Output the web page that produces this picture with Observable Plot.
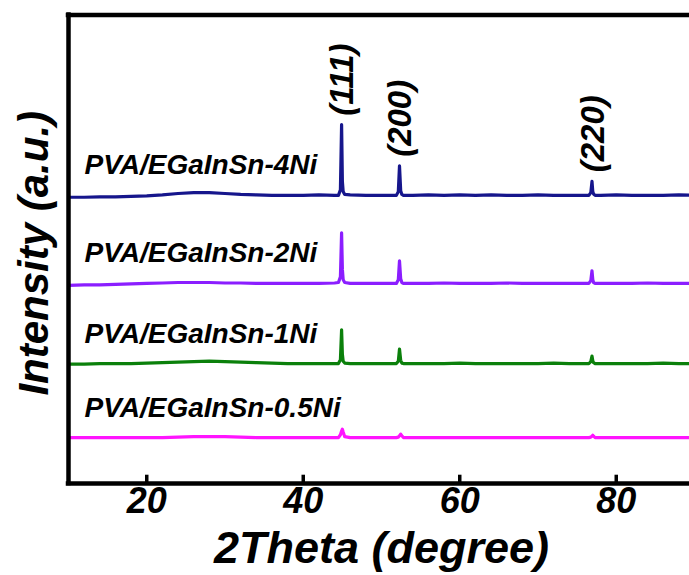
<!DOCTYPE html>
<html>
<head>
<meta charset="utf-8">
<script src="https://cdn.jsdelivr.net/npm/d3@7"></script>
<script src="https://cdn.jsdelivr.net/npm/@observablehq/plot@0.6"></script>
<style>
  html, body { margin: 0; padding: 0; background: #fff; overflow: hidden; }
</style>
</head>
<body>
<div id="chart"></div>
<script>
// XRD patterns of PVA/EGaInSn-xNi films (stacked, arbitrary units)
const twoTheta = [
  10, 12, 14, 16, 18, 20, 22, 24, 26, 28, 30, 32, 34, 36, 38, 40, 42, 44,
  44.5, 44.75, 44.9, 45.0, 45.1, 45.3, 46, 48, 50,
  51.9, 52.15, 52.3, 52.45, 52.6, 52.8, 54, 56, 58, 60, 62, 64, 66, 68, 70, 72, 74, 76,
  76.5, 76.75, 76.9, 77.0, 77.1, 77.3, 78, 80, 82, 84, 86, 88, 90
];

// intensities relative to each pattern's own baseline
const int4Ni = [
  -4, -4, -3, -3, -2, -1, 1, 4, 6, 6, 4, 2, 1, 0, 0, 0, 1, 0,
  0, 12, 151, 30, 8, 2, 1, 0, 0,
  0, 8, 63, 10, 2, 0, 0, 1, 0, 1, 0, 1, 0, 0, 1, 0, 0, 0,
  0, 6, 30, 8, 3, 0, 0, 1, 0, 0, 0, 1, 0
];
const int2Ni = [
  -4, -3, -3, -2, -1, 0, 1, 2, 2, 2, 1, 1, 0, 0, 0, 0, 0, 1,
  2, 14, 108, 30, 8, 2, 0, 0, 0,
  0, 8, 48, 10, 2, 0, 0, 0, 1, 0, 0, 0, 1, 0, 0, 0, 0, 0,
  0, 6, 27, 8, 2, 0, 0, 0, 0, 1, 0, 0, 0
];
const int1Ni = [
  -1, -1, 0, 0, 0, 1, 2, 3, 4, 5, 4, 3, 2, 1, 0, 0, 0, 0,
  0, 8, 72, 20, 5, 1, 0, 0, 0,
  0, 5, 31, 7, 1, 0, 0, 0, 0, 1, 0, 0, 0, 0, 0, 1, 0, 0,
  0, 4, 16, 6, 2, 0, 0, 0, 0, 0, 1, 0, 0
];
const int05Ni = [
  0, 0, 0, 0, 0, 0, 0, 1, 2, 2, 2, 1, 0, 0, 0, 0, 0, 0,
  0, 6, 14, 18, 12, 2, 0, 0, 0,
  0, 1, 4, 7.5, 4, 0, 0, 0, 0, 0, 0, 0, 0, 0, 0, 0, 0, 0,
  0, 1, 3, 5, 3, 0, 0, 0, 0, 0, 0, 0, 0
];

const seriesNames = ["PVA/EGaInSn-4Ni", "PVA/EGaInSn-2Ni", "PVA/EGaInSn-1Ni", "PVA/EGaInSn-0.5Ni"];
const seriesIntensities = [int4Ni, int2Ni, int1Ni, int05Ni];
const seriesOffsets = [615, 427, 256, 98];
const seriesColors = ["#16168c", "#8b1eff", "#0b800b", "#ff14ff"];

const peakPositions = [44.9, 52.3, 76.9];
const peakLabels = ["(111)", "(200)", "(220)"];

const xTicks = [20, 40, 60, 80];
const xLabel = "2Theta (degree)";
const yLabel = "Intensity (a.u.)";

// long-format table: one row per point, shifted by the stacking offset
const rows = [];
seriesIntensities.forEach((vals, s) => {
  vals.forEach((v, k) => rows.push({series: seriesNames[s], theta: twoTheta[k], value: v + seriesOffsets[s]}));
});

// the hkl labels sit just above the top pattern's peaks
const peakTops = peakPositions.map(p => int4Ni[twoTheta.indexOf(p)] + seriesOffsets[0]);

const font = '"Liberation Sans", Arial, Helvetica, sans-serif';
const bold = {fontWeight: "bold", fontStyle: "italic", fill: "black"};

const chart = Plot.plot({
  width: 689,
  height: 575,
  marginLeft: 68,
  marginRight: 0,
  marginTop: 14.5,
  marginBottom: 92,
  style: {fontFamily: font, background: "white", color: "black"},
  x: {domain: [10, 90], range: [68, 694], axis: null},
  y: {domain: [0, 1000], axis: null},
  color: {domain: seriesNames, range: seriesColors},
  marks: [
    Plot.lineY(rows, {x: "theta", y: "value", z: "series", stroke: "series", strokeWidth: 3.2, strokeLinejoin: "round"}),
    Plot.text(seriesNames, {
      x: 10, y: (d, i) => seriesOffsets[i], dx: 16, dy: -30,
      textAnchor: "start", fontSize: 28, ...bold
    }),
    Plot.text(peakLabels, {
      x: peakPositions, y: peakTops, rotate: -90, textAnchor: "start",
      dx: 1, dy: -9, fontSize: 33, ...bold
    }),
    // frame: left, bottom, top
    Plot.ruleX([10], {stroke: "black", strokeWidth: 4.5, strokeLinecap: "square"}),
    Plot.ruleY([0, 1000], {stroke: "black", strokeWidth: 4.5, strokeLinecap: "square"}),
    // inward ticks
    Plot.ruleX(xTicks, {x: d => d, y1: 0, y2: 17.7, stroke: "black", strokeWidth: 3.5}),
    Plot.axisX(xTicks, {tickSize: 0, tickPadding: 4, fontSize: 36, ...bold, label: null}),
    Plot.text([xLabel], {frameAnchor: "bottom", dx: 2.5, dy: 79, fontSize: 45, ...bold}),
    Plot.text([yLabel], {frameAnchor: "left", textAnchor: "middle", rotate: -90, dx: -34, dy: 4, fontSize: 42, ...bold})
  ]
});

document.getElementById("chart").append(chart);
</script>
</body>
</html>
